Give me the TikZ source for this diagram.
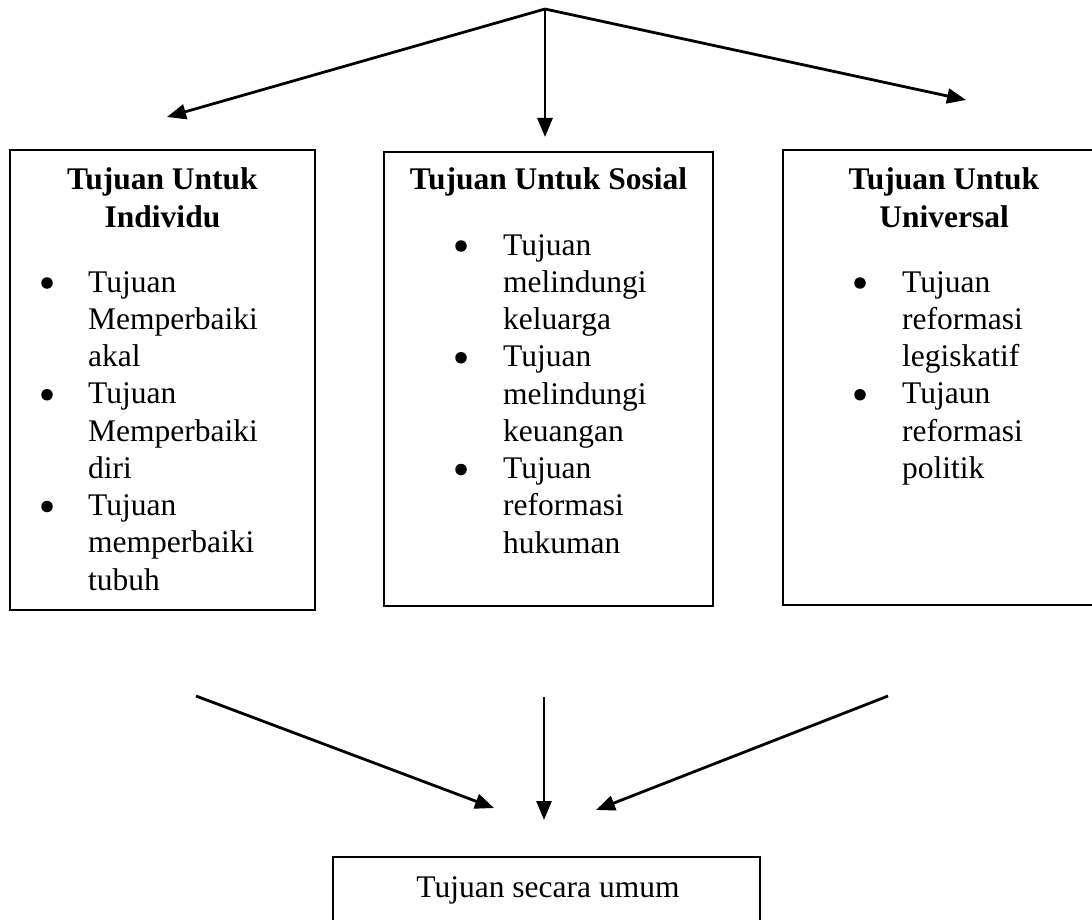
\documentclass[tikz,border=0pt]{standalone}
\usepackage{fontspec}
\setmainfont{Liberation Serif}
\usetikzlibrary{arrows.meta}
\begin{document}
\begin{tikzpicture}[x=1pt,y=-1pt,
  box/.style={draw,line width=2pt,inner sep=0pt},
  txt/.style={font=\fontsize{31.5}{37}\selectfont,inner sep=0pt,anchor=base west},
  head/.style={font=\fontsize{31.5}{37}\selectfont\bfseries,inner sep=0pt,anchor=base},
  ctr/.style={font=\fontsize{31.5}{37}\selectfont,inner sep=0pt,anchor=base},
  dot/.style={circle,fill,inner sep=0pt,minimum size=11.5pt},
  arr/.style={line width=2.8pt,-{Triangle[length=19pt,width=15pt]}}]
\useasboundingbox (0,0) rectangle (1092,920);
% boxes
\node[box,minimum width=305pt,minimum height=460pt] (ind) at (162.5,380) {};
\node[box,minimum width=329pt,minimum height=454pt] (sos) at (548.5,379) {};
\node[box,minimum width=327pt,minimum height=455pt] (uni) at (946.5,377.5) {};
\node[box,minimum width=427pt,minimum height=83pt] (umum) at (546.5,898.5) {};
% headings
\node[head] (h1a) at (162.5,190) {Tujuan Untuk};
\node[head] (h1b) at (162.5,227) {Individu};
\node[head] (h2a) at (548.5,190) {Tujuan Untuk Sosial};
\node[head] (h3a) at (944,190) {Tujuan Untuk};
\node[head] (h3b) at (944,227) {Universal};
% left list
\foreach \t/\y [count=\i] in {Tujuan/292,Memperbaiki/329.25,akal/366.5,Tujuan/403.75,Memperbaiki/441,diri/478.25,Tujuan/515.5,memperbaiki/552.75,tubuh/590}
  \node[txt] (l\i) at (88,\y) {\t};
\foreach \y [count=\i] in {292,403.75,515.5}
  \node[dot] (lb\i) at (47,\y-9) {};
% middle list
\foreach \t/\y [count=\i] in {Tujuan/255,melindungi/292.25,keluarga/329.5,Tujuan/366.75,melindungi/404,keuangan/441.25,Tujuan/478.5,reformasi/515.75,hukuman/553}
  \node[txt] (m\i) at (503,\y) {\t};
\foreach \y [count=\i] in {255,366.75,478.5}
  \node[dot] (mb\i) at (461,\y-9) {};
% right list
\foreach \t/\y [count=\i] in {Tujuan/292,reformasi/329.25,legiskatif/366.5,Tujaun/403.75,reformasi/441,politik/478.25}
  \node[txt] (r\i) at (902,\y) {\t};
\foreach \y [count=\i] in {292,403.75}
  \node[dot] (rb\i) at (860,\y-9) {};
% bottom text
\node[ctr] (ut) at (548,897) {Tujuan secara umum};
% top arrows
\coordinate (apex) at (545,9);
\coordinate (t1) at (167,117);
\coordinate (t2) at (545,137);
\coordinate (t3) at (966,100);
\draw[arr] (apex) -- (t1);
\draw[arr] (apex) -- (t2);
\draw[arr] (apex) -- (t3);
% bottom arrows
\coordinate (s1) at (196,696);
\coordinate (s2) at (544,697);
\coordinate (s3) at (888,696);
\coordinate (e1) at (494,808);
\coordinate (e2) at (544,820);
\coordinate (e3) at (596,810);
\draw[arr] (s1) -- (e1);
\draw[arr] (s2) -- (e2);
\draw[arr] (s3) -- (e3);
\end{tikzpicture}
\end{document}
